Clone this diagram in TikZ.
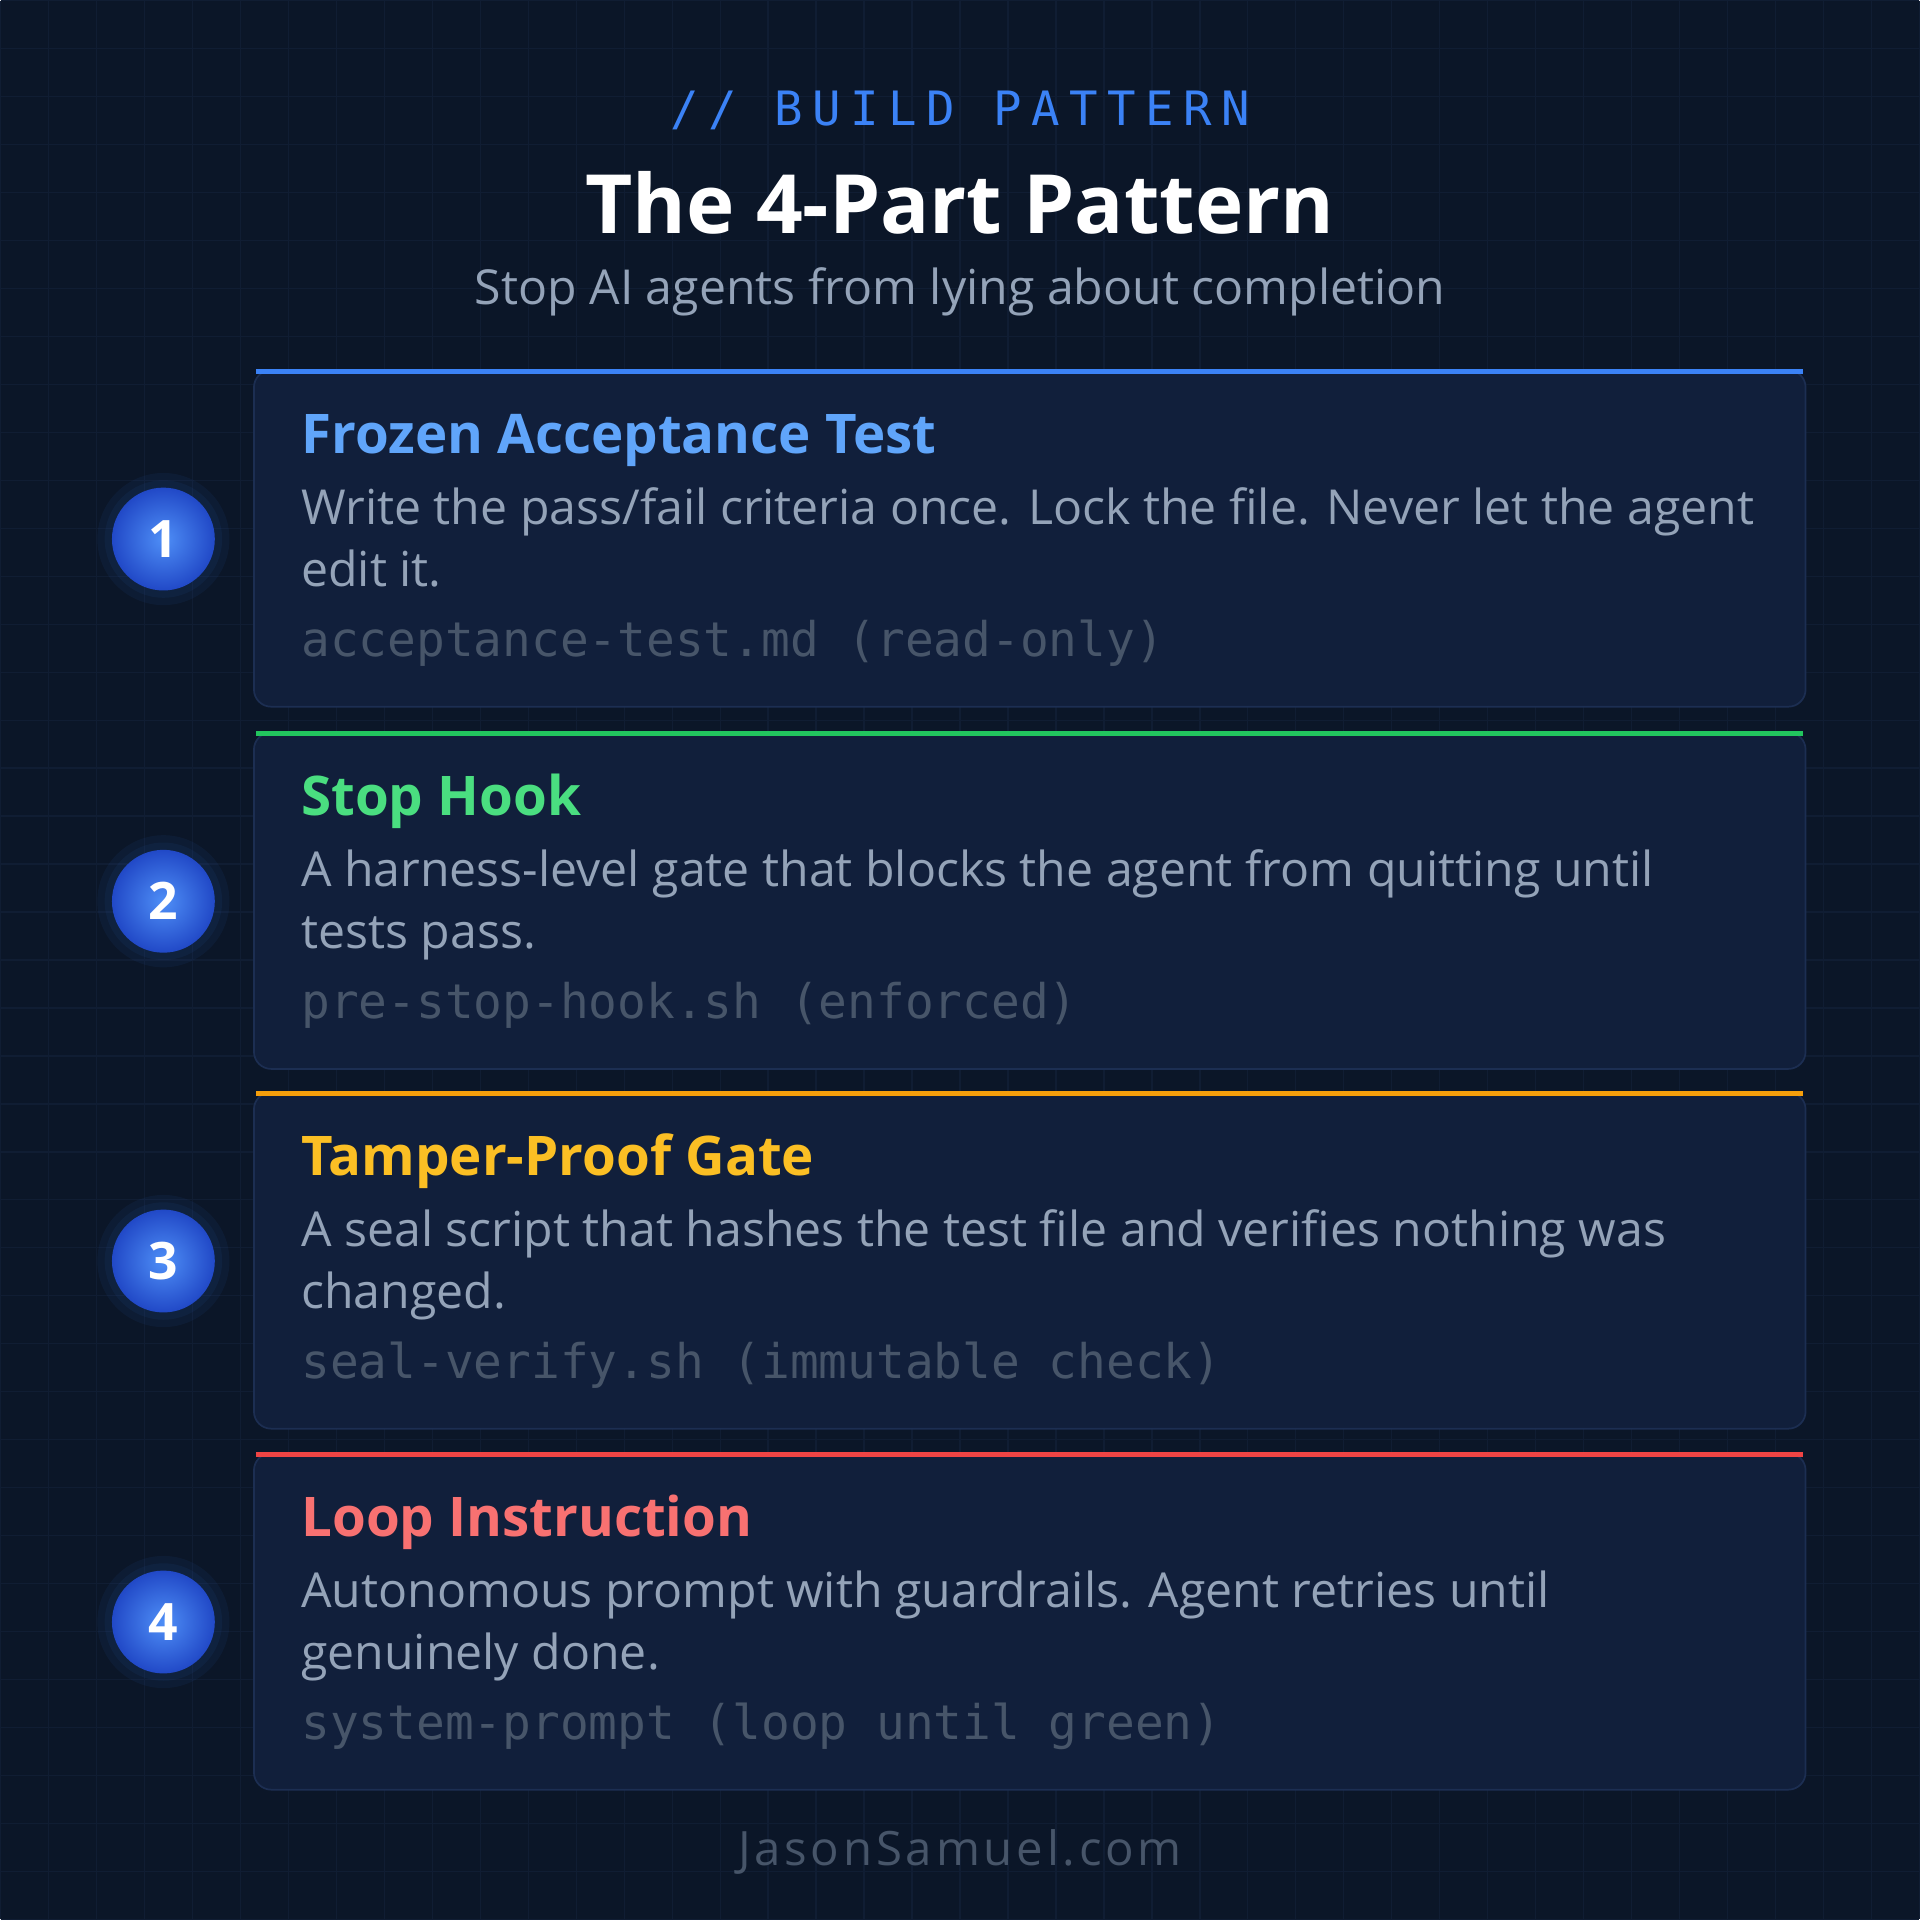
\documentclass[tikz,border=0pt]{standalone}
\usepackage{fontspec}
\setmainfont{Open Sans}
\newfontfamily\mono{DejaVu Sans Mono}
\newfontfamily\hdr[LetterSpace=20]{DejaVu Sans Mono}
\newfontfamily\foot[LetterSpace=8]{Open Sans}
\definecolor{bg}{HTML}{0B1628}
\definecolor{gridc}{HTML}{101D33}
\definecolor{cardf}{HTML}{111F3B}
\definecolor{cardb}{HTML}{1C2E52}
\definecolor{body}{HTML}{94A3B8}
\definecolor{code}{HTML}{475569}
\definecolor{c1}{HTML}{3B82F6}\definecolor{t1}{HTML}{60A5FA}
\definecolor{c2}{HTML}{22C55E}\definecolor{t2}{HTML}{4ADE80}
\definecolor{c3}{HTML}{F59E0B}\definecolor{t3}{HTML}{FBBF24}
\definecolor{c4}{HTML}{EF4444}\definecolor{t4}{HTML}{F87171}
\begin{document}
\begin{tikzpicture}[x=0.01cm,y=-0.01cm,
  ttl/.style={anchor=base west,font=\fontsize{12.7}{16}\selectfont\bfseries,inner sep=0},
  bod/.style={anchor=base west,font=\fontsize{11.2}{14}\selectfont,text=body,inner sep=0},
  cod/.style={anchor=base west,font=\mono\fontsize{11.1}{13}\selectfont,text=code,inner sep=0},
  card/.style={fill=cardf,draw=cardb,line width=0.4pt,rounded corners=4pt},
  num/.style={circle,minimum size=0.84cm,inner sep=0,text=white,font=\fontsize{12}{14}\selectfont\bfseries,
    inner color=c1!90!white,outer color=c1!70!blue!80!black}]
\fill[bg] (0,0) rectangle (1568,1568);
\foreach \i in {0,39.2,...,1568}{\draw[gridc,line width=0.3pt] (\i,0)--(\i,1568); \draw[gridc,line width=0.3pt] (0,\i)--(1568,\i);}
\useasboundingbox (0,0) rectangle (1568,1568);
\node[font=\hdr\fontsize{11}{14}\selectfont,text=c1] (h) at (784,90) {// BUILD PATTERN};
\node[font=\fontsize{19}{23}\selectfont\bfseries,text=white] (t) at (784,165) {The 4-Part Pattern};
\node[font=\fontsize{11.2}{14}\selectfont,text=body] (s) at (784,238) {Stop AI agents from lying about completion};
\foreach \k/\y/\a/\b/\ti/\la/\lb/\cd in {
 1/302/c1/t1/Frozen Acceptance Test/{Write the pass/fail criteria once. Lock the file. Never let the agent}/{edit it.}/{acceptance-test.md (read-only)},
 2/598/c2/t2/Stop Hook/{A harness-level gate that blocks the agent from quitting until}/{tests pass.}/{pre-stop-hook.sh (enforced)},
 3/892/c3/t3/Tamper-Proof Gate/{A seal script that hashes the test file and verifies nothing was}/{changed.}/{seal-verify.sh (immutable check)},
 4/1187/c4/t4/Loop Instruction/{Autonomous prompt with guardrails. Agent retries until}/{genuinely done.}/{system-prompt (loop until green)}}{
  \draw[card] (207,\y) rectangle (1475,\y+275);
  \draw[\a,line width=1.2pt] (209,\y+1) -- (1473,\y+1);
  \node[ttl,text=\b] (ti\k) at (245,\y+68) {\ti};
  \node[bod] (la\k) at (245,\y+126) {\la};
  \node[bod] (lb\k) at (245,\y+177) {\lb};
  \node[cod] (cd\k) at (245,\y+234) {\cd};
  \fill[c1,opacity=0.06] (133,\y+138) circle (54);
  \fill[c1,opacity=0.06] (133,\y+138) circle (48);
  \node[num] (n\k) at (133,\y+138) {\k};
}
\node[font=\foot\fontsize{11}{14}\selectfont,text=code] (f) at (784,1513) {JasonSamuel.com};
\end{tikzpicture}
\end{document}
